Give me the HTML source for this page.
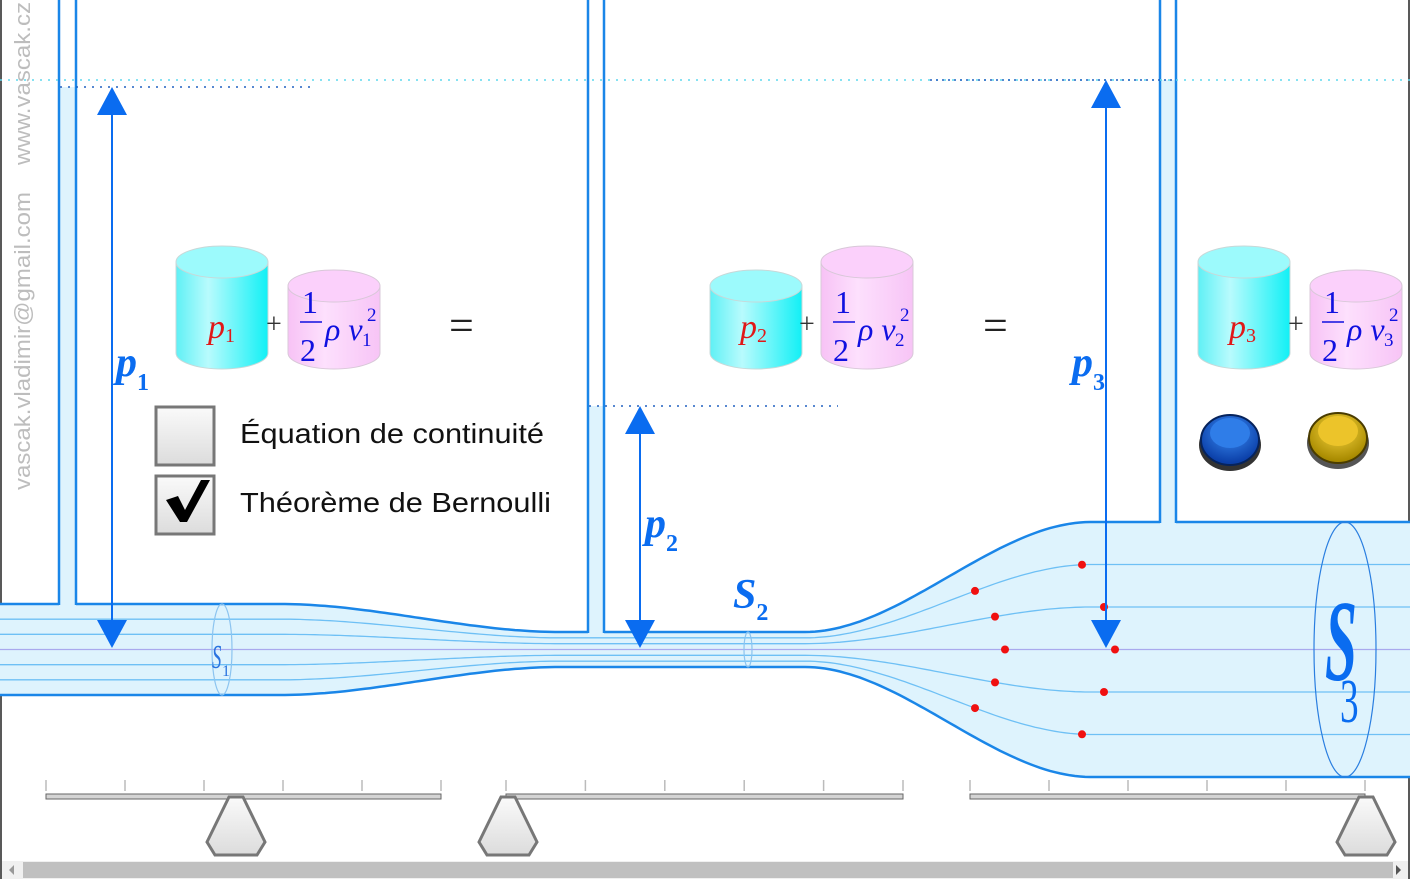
<!DOCTYPE html>
<html><head><meta charset="utf-8"><style>
html,body{margin:0;padding:0;background:#fff;}
svg{display:block;}
</style></head><body>
<svg id="s" width="1413" height="879" viewBox="0 0 1413 879" xmlns="http://www.w3.org/2000/svg">
<defs>
<linearGradient id="cy" x1="0" x2="1"><stop offset="0" stop-color="#5ff0f5"/><stop offset="0.35" stop-color="#b8fbfd"/><stop offset="1" stop-color="#12f0f5"/></linearGradient>
<linearGradient id="pk" x1="0" x2="1"><stop offset="0" stop-color="#f7c2f5"/><stop offset="0.4" stop-color="#fde0fd"/><stop offset="1" stop-color="#f7c4f6"/></linearGradient>
<linearGradient id="wt" x1="0" y1="0" x2="0" y2="1"><stop offset="0" stop-color="#fafafa"/><stop offset="1" stop-color="#dcdcdc"/></linearGradient>
<radialGradient id="bb" cx="0.5" cy="0.35" r="0.6"><stop offset="0" stop-color="#3c8ef5"/><stop offset="1" stop-color="#0b3fa8"/></radialGradient>
<radialGradient id="yb" cx="0.5" cy="0.35" r="0.6"><stop offset="0" stop-color="#f7d540"/><stop offset="1" stop-color="#a88a00"/></radialGradient>
</defs>
<rect x="0" y="0" width="1413" height="879" fill="#fff"/>
<line x1="1" y1="0" x2="1" y2="879" stroke="#222" stroke-width="1.5"/>
<line x1="1409" y1="0" x2="1409" y2="879" stroke="#222" stroke-width="1.5"/>
<g id="pipe"></g>
<g id="tubes"></g>
</svg>
<script>
// streamline fractions & tracer dots
const streamFractions = [-2/3, -1/3, 0, 1/3, 2/3];
const dotsA = [[975,-2/3],[995,-1/3],[1005,0],[995,1/3],[975,2/3]];
const dotsB = [[1082,-2/3],[1104,-1/3],[1115,0],[1104,1/3],[1082,2/3]];
const NS='http://www.w3.org/2000/svg';
const svg=document.getElementById('s');
const CY=649.5;
function ss(t){t=Math.max(0,Math.min(1,t));return t*t*(3-2*t);}
function h(x){
  if(x<280) return 45.5;
  if(x<560) return 45.5+(17.5-45.5)*ss((x-280)/280);
  if(x<805) return 17.5;
  if(x<1091) return 17.5+(127.5-17.5)*ss((x-805)/286);
  return 127.5;
}
function mk(tag,attrs,parent){const e=document.createElementNS(NS,tag);for(const k in attrs)e.setAttribute(k,attrs[k]);(parent||svg).appendChild(e);return e;}
function pathFor(f){let d='';for(let x=0;x<=1410;x+=5){d+=(x?'L':'M')+x+','+(CY+f*h(x)).toFixed(1);}return d;}
const pg=document.getElementById('pipe');
let d='';for(let x=0;x<=1410;x+=5)d+=(x?'L':'M')+x+','+(CY-h(x)).toFixed(1);
for(let x=1410;x>=0;x-=5)d+='L'+x+','+(CY+h(x)).toFixed(1);
let e=mk('path',{d:d+'Z',fill:'#def3fd'},pg);


streamFractions.forEach(f=>{
  const l=mk('path',{d:pathFor(f),fill:'none',stroke:f===0?'#a9a9ee':'#6ec0f5','stroke-width':1.3},pg);
  
  
});
[-1,1].forEach(f=>{
  const l=mk('path',{d:pathFor(f),fill:'none',stroke:'#1a86e8','stroke-width':2.5},pg);
  
  
});
[[222,10],[748,4],[1345,31]].forEach((c,i)=>{
  const el=mk('ellipse',{cx:c[0],cy:CY,rx:c[1],ry:h(c[0]),fill:'none',stroke:i==2?'#2a7ee0':'#8cc4f0','stroke-width':1.2},pg);
  
  
});
dotsA.concat(dotsB).forEach(p=>{
  const c=mk('circle',{cx:p[0],cy:CY+p[1]*h(p[0]),r:4,fill:'#f01010'},pg);
  
  
});
const tubes=[[59,76,87],[588,604,406],[1160,1176,80]];
const tg=document.getElementById('tubes');
tubes.forEach((t,i)=>{
  const bot=CY-h((t[0]+t[1])/2);
  const r=mk('rect',{x:t[0],y:t[2],width:t[1]-t[0],height:bot-t[2]+3,fill:'#def3fd'},tg);
  
  
  [t[0],t[1]].forEach(x=>{
    const l=mk('line',{x1:x,y1:0,x2:x,y2:bot+1,stroke:'#1a86e8','stroke-width':2.5},tg);
    
    
  });
});
</script>
<svg width="1413" height="879" style="position:absolute;left:0;top:0" xmlns="http://www.w3.org/2000/svg">
<g font-family="Liberation Sans, sans-serif" font-size="22" fill="#bdbdbd">
<text transform="translate(30,490) rotate(-90)" textLength="298" lengthAdjust="spacingAndGlyphs">vascak.vladimir@gmail.com</text>
<text transform="translate(30,165) rotate(-90)" textLength="163" lengthAdjust="spacingAndGlyphs">www.vascak.cz</text>
</g>
<line x1="0" y1="80" x2="1413" y2="80" stroke="#5fd8ee" stroke-width="1.5" stroke-dasharray="2 6"/>
<line x1="930" y1="80" x2="1176" y2="80" stroke="#2060c0" stroke-width="1.5" stroke-dasharray="2 4"/>
<line x1="60" y1="87" x2="310" y2="87" stroke="#2060c0" stroke-width="1.5" stroke-dasharray="2 6"/>
<line x1="589" y1="406" x2="838" y2="406" stroke="#2060c0" stroke-width="1.5" stroke-dasharray="2 6"/>
<g fill="#0a6cf0" stroke="#0a6cf0">
<g><line x1="112" y1="110" x2="112" y2="625" stroke-width="2"/><path d="M97,115 L112,87 L127,115Z" stroke="none"/><path d="M97,620 L112,648 L127,620Z" stroke="none"/></g>
<g><line x1="640" y1="430" x2="640" y2="625" stroke-width="2"/><path d="M625,434 L640,406 L655,434Z" stroke="none"/><path d="M625,620 L640,648 L655,620Z" stroke="none"/></g>
<g><line x1="1106" y1="100" x2="1106" y2="625" stroke-width="2"/><path d="M1091,108 L1106,80 L1121,108Z" stroke="none"/><path d="M1091,620 L1106,648 L1121,620Z" stroke="none"/></g>
</g>
<g font-family="Liberation Serif, serif" font-style="italic" font-weight="bold" fill="#0a6cf0">
<text x="116" y="376" font-size="42">p<tspan font-size="24" font-style="normal" dy="14">1</tspan></text>
<text x="645" y="537" font-size="42">p<tspan font-size="24" font-style="normal" dy="14">2</tspan></text>
<text x="1072" y="376" font-size="42">p<tspan font-size="24" font-style="normal" dy="14">3</tspan></text>
<text x="733" y="608" font-size="42">S<tspan font-size="24" font-style="normal" dy="12">2</tspan></text>
</g>
<g font-family="Liberation Serif, serif" fill="#2a74e0">
<text x="212" y="668" font-size="34" font-style="italic" transform="translate(212 650) scale(0.55 1) translate(-212 -650)">S</text>
<text x="222" y="676" font-size="16">1</text>
<text x="1325" y="680" font-size="115" font-style="italic" font-weight="bold" fill="#0a6cf0" transform="translate(1325 650) scale(0.5 1) translate(-1325 -650)">S</text>
<text x="1340" y="722" font-size="62" fill="#0a6cf0" transform="translate(1340 700) scale(0.6 1) translate(-1340 -700)">3</text>
</g>
<g id="cyl" font-family="Liberation Serif, serif">
<g><path d="M176,262 V353 A46,16 0 0 0 268,353 V262Z" fill="url(#cy)" stroke="#c8d8d8"/><ellipse cx="222" cy="262" rx="46" ry="16" fill="#9cfafc" stroke="#c8d8d8"/><text x="208" y="338" font-size="34" font-style="italic" fill="#e01818">p<tspan font-size="20" font-style="normal" dy="4">1</tspan></text></g>
<text x="266" y="333" font-size="28" fill="#333">+</text>
<g><path d="M288,286 V353 A46,16 0 0 0 380,353 V286Z" fill="url(#pk)" stroke="#d8c8d8"/><ellipse cx="334" cy="286" rx="46" ry="16" fill="#fbd0fb" stroke="#d8c8d8"/><text x="302" y="313" font-size="32" fill="#1010e0">1</text><line x1="300" y1="322" x2="322" y2="322" stroke="#1010e0" stroke-width="1.5"/><text x="300" y="361" font-size="32" fill="#1010e0">2</text><text x="325" y="340" font-size="32" font-style="italic" fill="#1010e0">ρ v</text><text x="367" y="321" font-size="19" fill="#1010e0">2</text><text x="362" y="346" font-size="19" fill="#1010e0">1</text></g>
<text x="449" y="340" font-size="44" fill="#222">=</text>

<g><path d="M710,286 V353 A46,16 0 0 0 802,353 V286Z" fill="url(#cy)" stroke="#c8d8d8"/><ellipse cx="756" cy="286" rx="46" ry="16" fill="#9cfafc" stroke="#c8d8d8"/><text x="740" y="338" font-size="34" font-style="italic" fill="#e01818">p<tspan font-size="20" font-style="normal" dy="4">2</tspan></text></g>
<text x="799" y="333" font-size="28" fill="#333">+</text>
<g><path d="M821,262 V353 A46,16 0 0 0 913,353 V262Z" fill="url(#pk)" stroke="#d8c8d8"/><ellipse cx="867" cy="262" rx="46" ry="16" fill="#fbd0fb" stroke="#d8c8d8"/><text x="835" y="313" font-size="32" fill="#1010e0">1</text><line x1="833" y1="322" x2="855" y2="322" stroke="#1010e0" stroke-width="1.5"/><text x="833" y="361" font-size="32" fill="#1010e0">2</text><text x="858" y="340" font-size="32" font-style="italic" fill="#1010e0">ρ v</text><text x="900" y="321" font-size="19" fill="#1010e0">2</text><text x="895" y="346" font-size="19" fill="#1010e0">2</text></g>
<text x="983" y="340" font-size="44" fill="#222">=</text>

<g><path d="M1198,262 V353 A46,16 0 0 0 1290,353 V262Z" fill="url(#cy)" stroke="#c8d8d8"/><ellipse cx="1244" cy="262" rx="46" ry="16" fill="#9cfafc" stroke="#c8d8d8"/><text x="1229" y="338" font-size="34" font-style="italic" fill="#e01818">p<tspan font-size="20" font-style="normal" dy="4">3</tspan></text></g>
<text x="1288" y="333" font-size="28" fill="#333">+</text>
<g><path d="M1310,286 V353 A46,16 0 0 0 1402,353 V286Z" fill="url(#pk)" stroke="#d8c8d8"/><ellipse cx="1356" cy="286" rx="46" ry="16" fill="#fbd0fb" stroke="#d8c8d8"/><text x="1324" y="313" font-size="32" fill="#1010e0">1</text><line x1="1322" y1="322" x2="1344" y2="322" stroke="#1010e0" stroke-width="1.5"/><text x="1322" y="361" font-size="32" fill="#1010e0">2</text><text x="1347" y="340" font-size="32" font-style="italic" fill="#1010e0">ρ v</text><text x="1389" y="321" font-size="19" fill="#1010e0">2</text><text x="1384" y="346" font-size="19" fill="#1010e0">3</text></g>
</g>
<g><rect x="156" y="407" width="58" height="58" fill="url(#wt)" stroke="#777" stroke-width="3"/></g>
<text x="240" y="443" font-family="Liberation Sans, sans-serif" font-size="28" textLength="304" lengthAdjust="spacingAndGlyphs" fill="#111">Équation de continuité</text>
<g><rect x="156" y="476" width="58" height="58" fill="url(#wt)" stroke="#777" stroke-width="3"/><path d="M166,500 L178,496 L185,510 L201,480 L210,480 L187,522 L180,522Z" fill="#000"/></g>
<text x="240" y="512" font-family="Liberation Sans, sans-serif" font-size="28" textLength="311" lengthAdjust="spacingAndGlyphs" fill="#111">Théorème de Bernoulli</text>
<g><ellipse cx="1230" cy="445" rx="31" ry="26" fill="#333"/><ellipse cx="1230" cy="440" rx="29" ry="25" fill="url(#bb)" stroke="#06235c" stroke-width="2"/><ellipse cx="1230" cy="433" rx="20" ry="15" fill="#2f7de8"/></g>
<g><ellipse cx="1338" cy="443" rx="31" ry="26" fill="#555"/><ellipse cx="1338" cy="438" rx="29" ry="25" fill="url(#yb)" stroke="#4a3c00" stroke-width="2"/><ellipse cx="1338" cy="431" rx="20" ry="15" fill="#ecc42a"/></g>
<g id="bal"></g>
<g><rect x="2" y="861" width="1406" height="18" fill="#f0f0f0"/><rect x="23" y="862" width="1370" height="16" fill="#c0c0c0"/><path d="M14,865 L9,870 L14,875Z" fill="#999"/><path d="M1396,865 L1401,870 L1396,875Z" fill="#555"/></g>
</svg>
<script>
const NS2='http://www.w3.org/2000/svg';
const bal=document.getElementById('bal');
const beams=[[46,441],[506,903],[970,1365]];
const weightsX=[236,508,1366];
function m(tag,a){const e=document.createElementNS(NS2,tag);for(const k in a)e.setAttribute(k,a[k]);bal.appendChild(e);return e;}
beams.forEach((b,i)=>{
  let r=m('rect',{x:b[0],y:794,width:b[1]-b[0],height:5,fill:'#d4d4d4',stroke:'#666','stroke-width':1});
  
  
  for(let k=0;k<=5;k++){
    const x=b[0]+(b[1]-b[0])*k/5;
    const t=m('line',{x1:x,y1:780,x2:x,y2:791,stroke:'#bbb','stroke-width':1.5});
    
    
  }
});
weightsX.forEach((x,i)=>{
  const p=m('path',{d:`M${x-7},797 L${x+7},797 L${x+29},842 L${x+21},855 L${x-21},855 L${x-29},842Z`,fill:'url(#wt)',stroke:'#777','stroke-width':3});
  
  
});
</script>
</body></html>
